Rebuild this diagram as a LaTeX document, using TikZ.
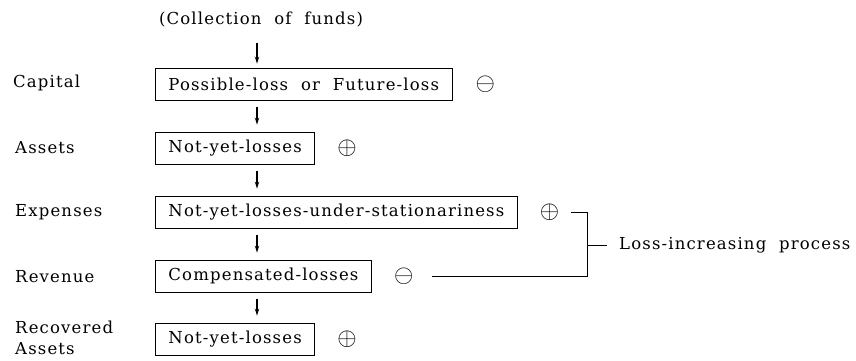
\documentclass[tikz,border=0pt]{standalone}
\usepackage{fontspec}
\setmainfont{DejaVu Serif}[LetterSpace=7,WordSpace=2]
\usetikzlibrary{positioning,arrows.meta}

\begin{document}
\begin{tikzpicture}[x=1pt,y=-1pt,font=\fontsize{16.5}{21}\selectfont,
	loss/.style={draw,line width=0.9pt,inner ysep=0pt,inner xsep=13pt,minimum height=32pt,anchor=west},
	item/.style={anchor=west,align=left,inner sep=0pt},
	sign/.style={inner sep=0pt,font=\fontsize{24.88}{25}\selectfont},
	flow/.style={-{Stealth[length=7pt,width=4.5pt]},line width=1.1pt,shorten <=7pt,shorten >=7pt}]
	\useasboundingbox (0,0) rectangle (856,360);
	\coordinate (c) at (257,0);
	\coordinate (j) at (587,0);
	\node (t) at (261,20) {(Collection of funds)};
	\node[loss] (b1) at (155,84) {Possible-loss or Future-loss};
	\node[loss] (b2) at (155,148) {Not-yet-losses};
	\node[loss] (b3) at (155,212) {Not-yet-losses-under-stationariness};
	\node[loss] (b4) at (155,276) {Compensated-losses};
	\node[loss] (b5) at (155,339) {Not-yet-losses};
	\node[item] (l1) at (13,83) {Capital};
	\node[item] (l2) at (15,148) {Assets};
	\node[item] (l3) at (15,212) {Expenses};
	\node[item] (l4) at (15,277) {Revenue};
	\node[item] (l5) at (15,338) {Recovered\\Assets};
	\node[sign,right=23pt of b1] (s1) {$\ominus$};
	\node[sign,right=22pt of b2] (s2) {$\oplus$};
	\node[sign,right=22pt of b3] (s3) {$\oplus$};
	\node[sign,right=22pt of b4] (s4) {$\ominus$};
	\node[sign,right=22pt of b5] (s5) {$\oplus$};
	\node[item] (lip) at (619,245) {Loss-increasing process};
	\draw[flow,shorten <=12pt,shorten >=4pt] (t.south -| c) -- (b1.north -| c);
	\draw[flow] (b1.south -| c) -- (b2.north -| c);
	\draw[flow] (b2.south -| c) -- (b3.north -| c);
	\draw[flow] (b3.south -| c) -- (b4.north -| c);
	\draw[flow] (b4.south -| c) -- (b5.north -| c);
	\draw[line width=0.9pt,shorten <=11pt,shorten >=18pt] (s3.east) -- (s3.east -| j) |- (s4.east);
	\draw[line width=0.9pt,shorten >=12pt] (lip.west -| j) -- (lip.west);
\end{tikzpicture}
\end{document}
